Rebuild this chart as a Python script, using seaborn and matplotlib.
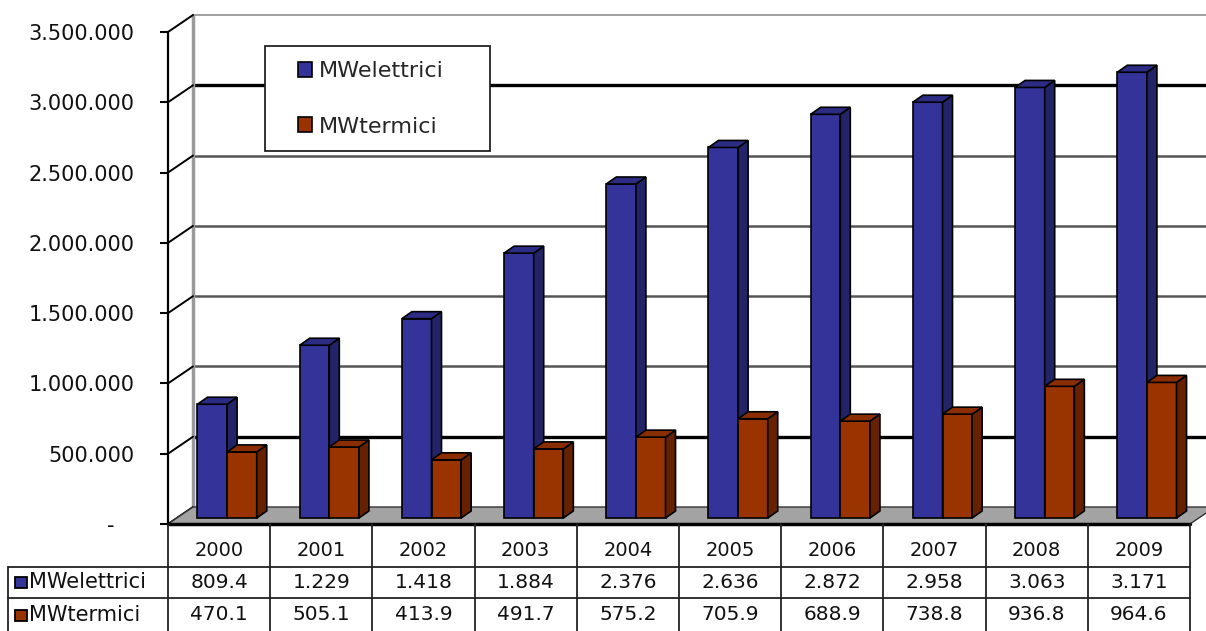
import numpy as np
import pandas as pd
import matplotlib
matplotlib.use("Agg")
import matplotlib.pyplot as plt
import seaborn as sns
from matplotlib.patches import Polygon, Rectangle
from matplotlib.transforms import offset_copy

# ---------------- data ----------------
years = ["2000", "2001", "2002", "2003", "2004", "2005", "2006", "2007", "2008", "2009"]
series = ["MWelettrici", "MWtermici"]
mw_elettrici = [809.4, 1229, 1418, 1884, 2376, 2636, 2872, 2958, 3063, 3171]   # thousands
mw_termici = [470.1, 505.1, 413.9, 491.7, 575.2, 705.9, 688.9, 738.8, 936.8, 964.6]  # thousands
elettrici_labels = ["809.4", "1.229", "1.418", "1.884", "2.376", "2.636", "2.872", "2.958", "3.063", "3.171"]
termici_labels = ["470.1", "505.1", "413.9", "491.7", "575.2", "705.9", "688.9", "738.8", "936.8", "964.6"]
y_ticks = [0, 500000, 1000000, 1500000, 2000000, 2500000, 3000000, 3500000]
y_tick_labels = ["-   ", "500.000", "1.000.000", "1.500.000", "2.000.000",
                 "2.500.000", "3.000.000", "3.500.000"]

# ---------------- style ----------------
BLUE, BLUE_SIDE, BLUE_TOP = "#333399", "#232368", "#2c2c84"
RED, RED_SIDE, RED_TOP = "#993300", "#662200", "#8a2d00"

sns.set_style("white")
plt.rcParams['font.family'] = ['DejaVu Sans']

W, H = 1206, 631
fig = plt.figure(figsize=(W / 100, H / 100), dpi=100)
fig.patch.set_facecolor("white")

X0, X1 = 168, 1190     # pixel columns of category -0.5 and 9.5 (front plane)
Y0, Y1 = 524, 32       # pixel rows of 0 and 3.5M (front plane)
YMAX = 3500000


def fx(px):
    return px / W


def fy(py):
    return 1 - py / H


PX_CAT = (X1 - X0) / 10.0
PX_VAL = (Y0 - Y1) / YMAX

ax = fig.add_axes([fx(X0), fy(Y0), (X1 - X0) / W, (Y0 - Y1) / H])
ax.set_facecolor("white")

df = pd.DataFrame({
    "Anno": years * 2,
    "Serie": [series[0]] * len(years) + [series[1]] * len(years),
    "Valore": [v * 1000 for v in mw_elettrici] + [v * 1000 for v in mw_termici],
})

sns.barplot(data=df, x="Anno", y="Valore", hue="Serie", order=years, hue_order=series,
            palette=[BLUE, RED], width=0.58, saturation=1, edgecolor="black",
            linewidth=1.2, legend=False, ax=ax)

ax.set_xlim(-0.5, 9.5)
ax.set_ylim(0, YMAX)

# depth of wall/floor and of bars
DX, DY = 25 / PX_CAT, 17 / PX_VAL
BDX, BDY = 10 / PX_CAT, 7 / PX_VAL
bar_tr = offset_copy(ax.transData, fig=fig, x=8, y=6, units='dots')

# back wall gridlines and side wall diagonals
for v in y_ticks:
    ax.plot([-0.5, -0.5 + DX], [v, v + DY], color="black", lw=1.4, clip_on=False, zorder=0.6)
    if v == 0:
        continue
    if v == YMAX:
        col, lw = "#a0a0a0", 1.4
    elif v in (500000, 3000000):
        col, lw = "black", 2.4
    else:
        col, lw = "#555555", 1.8
    ax.plot([-0.5 + DX, 11], [v + DY, v + DY], color=col, lw=lw, clip_on=False, zorder=0.5)

ax.plot([-0.5 + DX, -0.5 + DX], [DY, YMAX + DY], color="#9a9a9a", lw=2.5,
        clip_on=False, zorder=0.55)

# floor
floor = Polygon([(-0.5, 0), (9.5, 0), (9.5 + DX, DY), (-0.5 + DX, DY)], closed=True,
                facecolor="#a3a3a3", edgecolor="#333333", lw=1.0, clip_on=False, zorder=1)
ax.add_patch(floor)
ax.plot([-0.5, 9.5], [0, 0], color="black", lw=2.5, clip_on=False, zorder=1.1)

# 3D bar faces
face_cols = [(BLUE_SIDE, BLUE_TOP), (RED_SIDE, RED_TOP)]
for ci, cont in enumerate(ax.containers):
    zb = 3 + ci
    for p in cont:
        p.set_transform(bar_tr)
        p.set_zorder(zb)
        p.set_clip_on(False)
        x, y, w, h = p.get_x(), p.get_y(), p.get_width(), p.get_height()
        side = Polygon([(x + w, y), (x + w + BDX, y + BDY), (x + w + BDX, y + h + BDY), (x + w, y + h)],
                       closed=True, facecolor=face_cols[ci][0], edgecolor="black", lw=1.2,
                       transform=bar_tr, clip_on=False, zorder=zb)
        top = Polygon([(x, y + h), (x + BDX, y + h + BDY), (x + w + BDX, y + h + BDY), (x + w, y + h)],
                      closed=True, facecolor=face_cols[ci][1], edgecolor="black", lw=1.2,
                      transform=bar_tr, clip_on=False, zorder=zb)
        ax.add_patch(side)
        ax.add_patch(top)

# axes decoration
ax.set_yticks(y_ticks)
ax.set_yticklabels(y_tick_labels)
ax.set_xticks([])
ax.set_xlabel("")
ax.set_ylabel("")
ax.tick_params(axis="y", left=True, length=6, width=1.5, pad=18, labelsize=15,
               direction="out", colors="black", labelcolor="#111111")
for s in ["top", "right", "bottom"]:
    ax.spines[s].set_visible(False)
ax.spines["left"].set_color("black")
ax.spines["left"].set_linewidth(1.6)

# legend
legend_box = Rectangle((fx(265), fy(151)), (490 - 265) / W, (151 - 46) / H,
                       transform=fig.transFigure, facecolor="white", edgecolor="#222222",
                       lw=1.3, zorder=1)
fig.add_artist(legend_box)
fig.legend(handles=[ax.containers[0][0], ax.containers[1][0]], labels=series,
           loc="upper left", bbox_to_anchor=(fx(298), fy(61)), bbox_transform=fig.transFigure,
           frameon=False, fontsize=16, handlelength=0.65, handleheight=0.65,
           handletextpad=0.3, labelspacing=1.6, borderpad=0, borderaxespad=0)

# data table
ax_t = fig.add_axes([fx(X0), fy(631), (X1 - X0) / W, (631 - 524) / H])
ax_t.set_xlim(-0.5, 9.5)
ax_t.set_ylim(107, 0)
ax_t.axis("off")
LBL = -0.5 - (X0 - 8) / PX_CAT
line_kw = dict(color="#222222", lw=1.3, clip_on=False)
for k in range(11):
    ax_t.plot([-0.5 + k, -0.5 + k], [0, 107], **line_kw)
ax_t.plot([LBL, LBL], [43, 107], **line_kw)
for yy in (43, 74):
    ax_t.plot([LBL, 9.5], [yy, yy], **line_kw)

for i, yr in enumerate(years):
    ax_t.text(i, 27, yr, ha="center", va="center", fontsize=14, color="#111111")
    ax_t.text(i, 58.5, elettrici_labels[i], ha="center", va="center", fontsize=14.5, color="#111111")
    ax_t.text(i, 91, termici_labels[i], ha="center", va="center", fontsize=14.5, color="#111111")

for row_y, name, col in [(58.5, series[0], BLUE), (91, series[1], RED)]:
    ax_t.add_patch(Rectangle((LBL + 7 / PX_CAT, row_y - 5.5), 12 / PX_CAT, 11,
                             facecolor=col, edgecolor="black", lw=1.3, clip_on=False))
    ax_t.text(LBL + 21 / PX_CAT, row_y, name, ha="left", va="center", fontsize=15, color="#111111")

fig.savefig("out.png", dpi=100)
